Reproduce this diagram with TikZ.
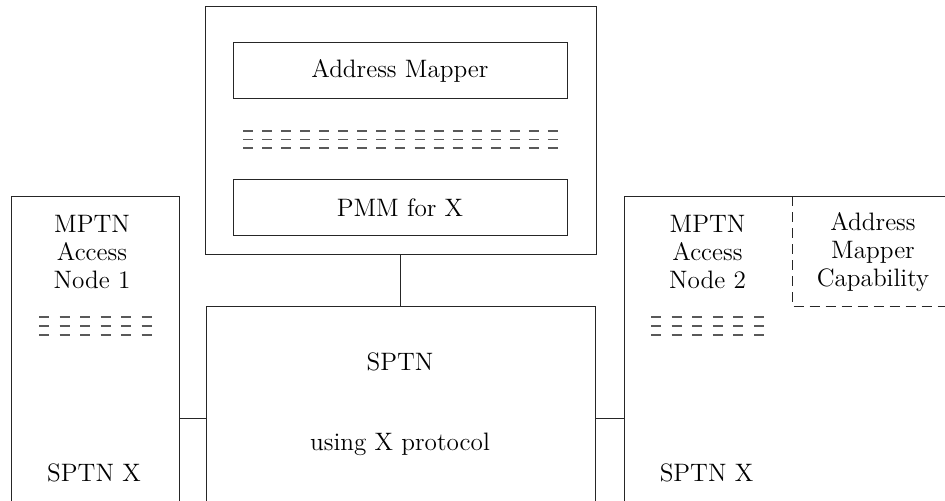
\documentclass[tikz,border=0pt]{standalone}
\usetikzlibrary{positioning}
\tikzset{
  box/.style={draw=black!85, line width=0.5pt, inner sep=0pt},
  lbl/.style={font=\fontsize{12.6}{14}\selectfont, align=center, inner sep=0pt},
  dashrow/.style={draw=black!65, line width=0.65pt},
  capline/.style={draw=black!85, line width=0.5pt, dash pattern=on 5pt off 3pt},
}
\begin{document}
\begin{tikzpicture}[x=0.5pt,y=-0.5pt]
  \useasboundingbox (0,0) rectangle (945,501);
  \clip (0,0) rectangle (945,501);

  % address mapper station
  \node[box, minimum width=195.5pt, minimum height=124pt] (mgr) at (400.5,131) {};
  \node[box, lbl, minimum width=167pt, minimum height=28pt] (amap) at (400,71) {Address Mapper};
  \node[box, lbl, minimum width=167pt, minimum height=28pt] (pmm) at (400,208) {PMM for X};
  \foreach \i in {0,...,16}
    \foreach \dy in {0,8.5,17}
      \draw[dashrow] (243+19.06*\i,131+\dy) -- ++(10,0);

  % the SPTN in the middle
  \node[box, minimum width=194.5pt, minimum height=111pt] (sptn) at (400.5,418) {};
  \node[lbl] (sptnA) at (400,362) {SPTN};
  \node[lbl] (sptnB) at (400,444) {using X protocol};

  % access nodes
  \node[box, minimum width=84pt, minimum height=221pt] (node1) at (95,418) {};
  \node[box, minimum width=168pt, minimum height=221pt] (node2) at (792,418) {};

  \node[lbl] (mptnA) at (92,252) {MPTN\\Access\\Node 1};
  \node[lbl] (sxA) at (94,473) {SPTN X};
  \foreach \i in {0,...,5}
    \foreach \dy in {0,9,18}
      \draw[dashrow] (39+20.5*\i,317+\dy) -- ++(10,0);

  \node[lbl] (mptnB) at (707.5,252) {MPTN\\Access\\Node 2};
  \node[lbl] (sxB) at (706.5,473) {SPTN X};
  \node[lbl] (cap) at (873,252) {Address\\Mapper\\Capability};
  \foreach \i in {0,...,5}
    \foreach \dy in {0,9,18}
      \draw[dashrow] (651+20.6*\i,317+\dy) -- ++(10,0);

  \coordinate (capcorner) at (792,307);
  \draw[capline] (node2.north) -- (capcorner) -- (node2.east |- capcorner);

  % links
  \draw[box] (mgr.south) -- (sptn.north);
  \draw[box] (node1.east) -- (sptn.west);
  \draw[box] (sptn.east) -- (node2.west);
\end{tikzpicture}
\end{document}
